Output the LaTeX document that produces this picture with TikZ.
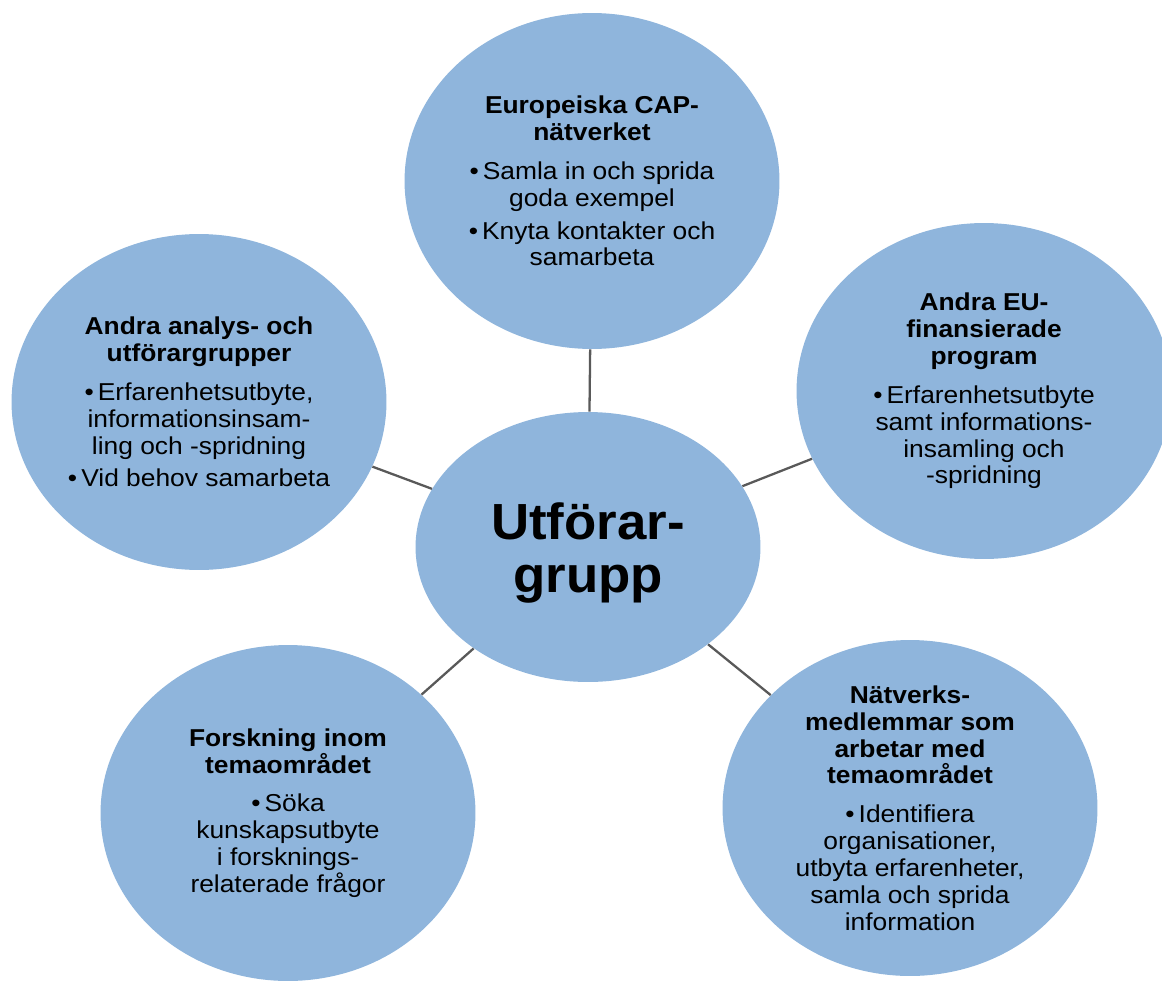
\documentclass[tikz,border=0pt]{standalone}
\usepackage{fontspec}
\setmainfont{Liberation Sans}[FakeStretch=1.08]
\newfontfamily\hubfont{Liberation Sans}[FakeStretch=1.04]
\usepackage{tikz}
\usetikzlibrary{shapes.geometric}
\definecolor{BubbleBlue}{HTML}{8FB5DC}
\definecolor{LinkGrey}{HTML}{595959}
\newcommand{\bul}{\textbullet\,}

\begin{document}
\begin{tikzpicture}[
            x=0.02cm, y=-0.02cm,
            bubble/.style={ellipse, fill=BubbleBlue, inner sep=0pt, minimum width=7.5cm, minimum height=6.72cm},
            hub/.style={ellipse, fill=BubbleBlue, inner sep=0pt, minimum width=6.9cm, minimum height=5.4cm},
            txt/.style={align=center, text=black, font=\fontsize{13.9}{15.3}\selectfont},
            hubtxt/.style={align=center, text=black, font=\hubfont\fontsize{28.9}{30.2}\selectfont\bfseries},
            link/.style={draw=LinkGrey, line width=1.3pt}
        ]
            \useasboundingbox (0,0) rectangle (1162,980);

            % hub and the five partner bubbles
            \node[hub] (hub) at (588,547) {};
            \node[bubble] (cap) at (592,181) {};
            \node[bubble] (eu) at (984,391) {};
            \node[bubble] (analys) at (199,402) {};
            \node[bubble] (forskning) at (288,813) {};
            \node[bubble] (natverk) at (910,808) {};

            \draw[link] (hub) -- (cap);
            \draw[link] (hub) -- (eu);
            \draw[link] (hub) -- (analys);
            \draw[link] (hub) -- (forskning);
            \draw[link] (hub) -- (natverk);

            % texts
            \node[hubtxt] (hub-txt) at ([yshift=-3.5]hub.center) {Utförar-\\grupp};

            \node[txt] (cap-txt) at (cap) {
                \textbf{Europeiska CAP-}\\\textbf{nätverket}\\[6.8pt]
                \bul Samla in och sprida\\goda exempel\\[3.4pt]
                \bul Knyta kontakter och\\samarbeta
            };

            \node[txt] (eu-txt) at (eu) {
                \textbf{Andra EU-}\\\textbf{finansierade}\\\textbf{program}\\[6.8pt]
                \bul Erfarenhetsutbyte\\samt informations-\\insamling och\\-spridning
            };

            \node[txt] (analys-txt) at (analys) {
                \textbf{Andra analys- och}\\\textbf{utförargrupper}\\[6.8pt]
                \bul Erfarenhetsutbyte,\\informationsinsam-\\ling och -spridning\\[3.4pt]
                \bul Vid behov samarbeta
            };

            \node[txt] (forskning-txt) at (forskning) {
                \textbf{Forskning inom}\\\textbf{temaområdet}\\[6.8pt]
                \bul Söka\\kunskapsutbyte\\i forsknings-\\relaterade frågor
            };

            \node[txt] (natverk-txt) at (natverk) {
                \textbf{Nätverks-}\\\textbf{medlemmar som}\\\textbf{arbetar med}\\\textbf{temaområdet}\\[6.8pt]
                \bul Identifiera\\organisationer,\\utbyta erfarenheter,\\samla och sprida\\information
            };

        \end{tikzpicture}
\end{document}
